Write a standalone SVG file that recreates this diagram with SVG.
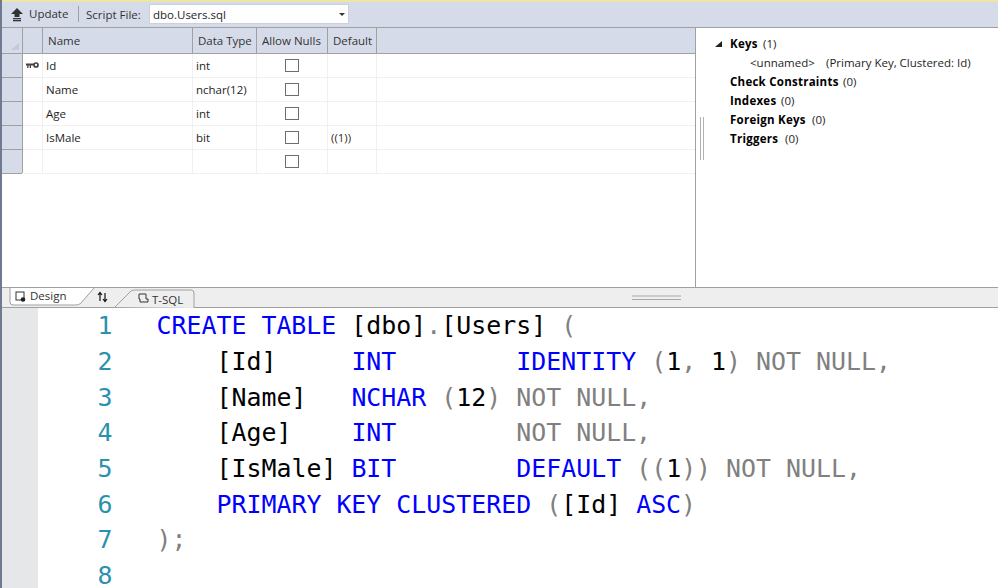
<svg xmlns="http://www.w3.org/2000/svg" width="998" height="588" viewBox="0 0 998 588">
<style>
text{font-family:"Open Sans","Noto Sans","Liberation Sans",sans-serif;font-size:11.5px;fill:#1e1e1e;white-space:pre}
.b{font-weight:700;fill:#000;letter-spacing:.25px}
.h{fill:#333}
.c{font-family:"DejaVu Sans Mono","Liberation Mono",monospace;font-size:24.9px;fill:#000}
.n{fill:#2b91af}.k{fill:#0000ff}.g{fill:#808080}.br{fill:#3c2a28}
.hd{fill:#d6dbe9}.ln{stroke:#a0a0a0;stroke-width:1;fill:none}.gl{stroke:#f0f0f0;stroke-width:1;fill:none}
.cb{fill:#fff;stroke:#6e6e6e;stroke-width:1}
</style>
<rect width="998" height="588" fill="#fff"/>
<g id="toolbar">
<rect width="998" height="28" fill="#d6dbe9"/>
<rect width="998" height="1.500" fill="#f5e98e"/>
<path d="M17 8l6 6h-3.500v3h-5v-3h-3.500z" fill="#333"/><rect x="13" y="18" width="8" height="1.300" fill="#333"/><rect x="13" y="20" width="8" height="1.300" fill="#333"/>
<text x="29" y="18" class="h">Update</text>
<path d="M78.500 6v16" class="ln"/>
<text x="86" y="19" class="h">Script File:</text>
<rect x="149.500" y="4.500" width="199" height="19" fill="#fff" stroke="#ccd0dc"/>
<text x="153" y="19">dbo.Users.sql</text>
<path d="M339 13h6l-3 3z" fill="#333"/>
</g>
<g id="left-edge"><rect x="0" y="0" width="2" height="588" fill="#6f7a90"/></g>
<g id="grid">
<rect x="2" y="28" width="693" height="26" fill="#d6dbe9"/>
<rect x="2" y="54" width="20" height="120" fill="#d6dbe9"/>
<path d="M19 43v7h-8z" fill="#c4c9d6"/>
<path d="M2 27.500H998M2 53.500H695M22.500 28V173M42.500 28V54M192.500 28V54M256.500 28V54M327.500 28V54M376.500 28V54M2 173.500H22M22.500 77.500H2M22.500 101.500H2M22.500 125.500H2M22.500 149.500H2" class="ln"/>
<path d="M23 77.500H695M23 101.500H695M23 125.500H695M23 149.500H695M23 173.500H695M42.500 54V173M192.500 54V173M256.500 54V173M327.500 54V173M376.500 54V173" class="gl"/>
<path d="M695.500 28V287" class="ln"/>
<text x="48" y="45" class="h">Name</text>
<text x="198" y="45" class="h">Data Type</text>
<text x="262" y="45" class="h">Allow Nulls</text>
<text x="333" y="45" class="h">Default</text>
</g>
<g id="row-id">
<path d="M26 63.500h8v2h-3v2.500h-1.300v-2.500h-1.200v2.500h-1.300v-2.500h-1.200z" fill="#444"/><circle cx="36" cy="65" r="2" fill="none" stroke="#444" stroke-width="1.700"/>
<text x="46" y="70">Id</text><text x="196" y="70">int</text><rect class="cb" x="285.500" y="59.500" width="13" height="12"/>
</g>
<g id="row-name">
<text x="46" y="94">Name</text><text x="196" y="94">nchar(12)</text><rect class="cb" x="285.500" y="83.500" width="13" height="12"/>
</g>
<g id="row-age">
<text x="46" y="118">Age</text><text x="196" y="118">int</text><rect class="cb" x="285.500" y="107.500" width="13" height="12"/>
</g>
<g id="row-ismale">
<text x="46" y="142">IsMale</text><text x="196" y="142">bit</text><rect class="cb" x="285.500" y="131.500" width="13" height="12"/><text x="331" y="142" class="br">((1))</text>
</g>
<g id="row-empty"><rect class="cb" x="285.500" y="155.500" width="13" height="12"/></g>
<g id="constraints">
<path d="M722 41v6h-7z" fill="#222"/>
<text x="730" y="48" class="b">Keys</text><text x="763" y="48">(1)</text>
<text x="750" y="67">&lt;unnamed&gt;</text><text x="826" y="67">(Primary Key, Clustered: Id)</text>
<text x="730" y="86" class="b">Check Constraints</text><text x="843" y="86">(0)</text>
<text x="730" y="105" class="b">Indexes</text><text x="781" y="105">(0)</text>
<text x="730" y="124" class="b">Foreign Keys</text><text x="812" y="124">(0)</text>
<text x="730" y="143" class="b">Triggers</text><text x="785" y="143">(0)</text>
<path d="M700.500 117V160M703.500 117V160" stroke="#b0b0b0" fill="none"/>
</g>
<g id="tabs">
<rect x="2" y="288" width="996" height="20" fill="#eeeeee"/>
<path d="M2 287.500H998M2 307.500H998" class="ln"/>
<path d="M632 296H681M632 299.500H681" stroke="#a8a8a8" fill="none"/>
<path d="M10 288v14q0 3 3 3h63q3 0 5-2l13-15" fill="#fff" stroke="#a0a0a0"/>
<rect x="16" y="292" width="8" height="8" fill="none" stroke="#333"/><circle cx="23" cy="299.500" r="2.300" fill="#222"/>
<text x="30" y="300" class="h">Design</text>
<path d="M100 293v8M98 295l2-2.500 2 2.500M105 293v8M103 299l2 2.500 2-2.500" fill="none" stroke="#111" stroke-width="1.200"/>
<path d="M115 307l16-16q2-1 4-1h56q3 0 3 3v15" fill="#eeeeee" stroke="#a0a0a0"/>
<path d="M139 294h7v5h2v3h-8v-3h-1z" fill="none" stroke="#333"/>
<text x="152" y="304" class="h">T-SQL</text>
</g>
<g id="editor">
<rect x="2" y="308" width="36" height="280" fill="#e6e7e8"/>
<g class="c">
<text class="c n" x="97.500" y="334">1</text><text class="c n" x="97.500" y="370">2</text><text class="c n" x="97.500" y="405.500">3</text><text class="c n" x="97.500" y="441">4</text><text class="c n" x="97.500" y="477">5</text><text class="c n" x="97.500" y="513">6</text><text class="c n" x="97.500" y="548">7</text><text class="c n" x="97.500" y="584">8</text>
<text class="c" x="156.500" y="334"><tspan class="k">CREATE TABLE</tspan> [dbo]<tspan class="g">.</tspan>[Users] <tspan class="g">(</tspan></text>
<text class="c" x="216.500" y="370">[Id]     <tspan class="k">INT</tspan>        <tspan class="k">IDENTITY</tspan> <tspan class="g">(</tspan>1<tspan class="g">,</tspan> 1<tspan class="g">) NOT NULL,</tspan></text>
<text class="c" x="216.500" y="405.500">[Name]   <tspan class="k">NCHAR</tspan> <tspan class="g">(</tspan>12<tspan class="g">) NOT NULL,</tspan></text>
<text class="c" x="216.500" y="441">[Age]    <tspan class="k">INT</tspan>        <tspan class="g">NOT NULL,</tspan></text>
<text class="c" x="216.500" y="477">[IsMale] <tspan class="k">BIT</tspan>        <tspan class="k">DEFAULT</tspan> <tspan class="g">((</tspan>1<tspan class="g">)) NOT NULL,</tspan></text>
<text class="c" x="216.500" y="513"><tspan class="k">PRIMARY KEY CLUSTERED</tspan> <tspan class="g">(</tspan>[Id] <tspan class="k">ASC</tspan><tspan class="g">)</tspan></text>
<text class="c g" x="156.500" y="548">);</text>
</g>
</g>
</svg>
